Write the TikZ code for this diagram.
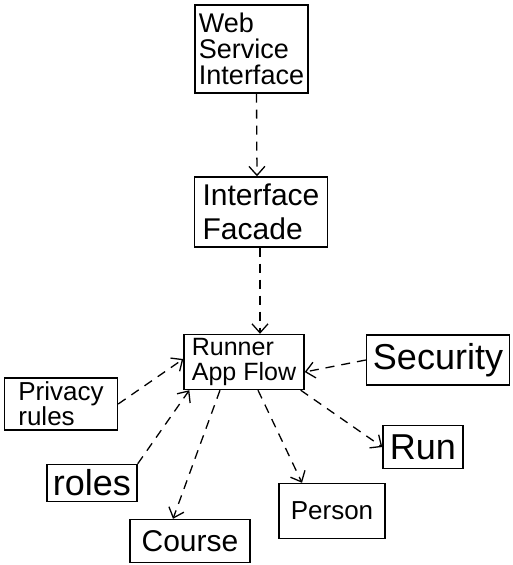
\documentclass[tikz,border=0pt]{standalone}
\usepackage{fontspec}
\setmainfont{Liberation Sans}
\usetikzlibrary{arrows.meta}
\begin{document}
\begin{tikzpicture}[x=1pt,y=-1pt,
  box/.style={draw, line width=1.4pt, inner sep=1pt, align=left},
  link/.style={line width=1.3pt, dash pattern=on 9pt off 7pt, -{Straight Barb[length=9pt,width=16pt,line width=1.3pt]}}]
\useasboundingbox (0,0) rectangle (513,565);
\node[box, minimum width=113pt, minimum height=88pt, font=\fontsize{27}{26}\selectfont] (wsi) at (251.5,49) {Web\\Service\\Interface};
\node[box, minimum width=133pt, minimum height=70pt, font=\fontsize{30}{34}\selectfont] (ifc) at (261,212) {Interface\\Facade};
\node[box, minimum width=120pt, minimum height=55pt, font=\fontsize{25}{25}\selectfont] (raf) at (244,362) {Runner\\App Flow};
\node[box, minimum width=143pt, minimum height=50pt, font=\fontsize{36}{38}\selectfont] (sec) at (438,360) {Security};
\node[box, minimum width=113pt, minimum height=52pt, font=\fontsize{26}{25}\selectfont] (pri) at (61,404) {Privacy\\rules};
\node[box, minimum width=90pt, minimum height=37pt, font=\fontsize{36}{36}\selectfont] (rol) at (92,483) {roles};
\node[box, minimum width=120pt, minimum height=43pt, font=\fontsize{30}{32}\selectfont] (crs) at (190,541) {Course};
\node[box, minimum width=80pt, minimum height=43pt, font=\fontsize{36}{36}\selectfont] (run) at (423,447) {Run};
\node[box, minimum width=106pt, minimum height=55pt, font=\fontsize{26}{28}\selectfont] (per) at (332,511) {Person};
\draw[link] ([xshift=5pt]wsi.south) -- ([xshift=-4pt]ifc.north);
\draw[link] ([xshift=-1pt]ifc.south) -- ([xshift=16pt]raf.north);
\draw[link] (sec.west) -- ([yshift=-10pt]raf.east);
\draw[link] (pri.east) -- ([yshift=3pt]raf.west);
\draw[link] (rol.north east) -- ([xshift=6pt]raf.south west);
\draw[link] ([xshift=-24pt]raf.south) -- ([xshift=-17pt]crs.north);
\draw[link] ([xshift=14pt]raf.south) -- ([xshift=-30pt]per.north);
\draw[link] ([xshift=-4pt]raf.south east) -- (run.west);
\end{tikzpicture}
\end{document}
